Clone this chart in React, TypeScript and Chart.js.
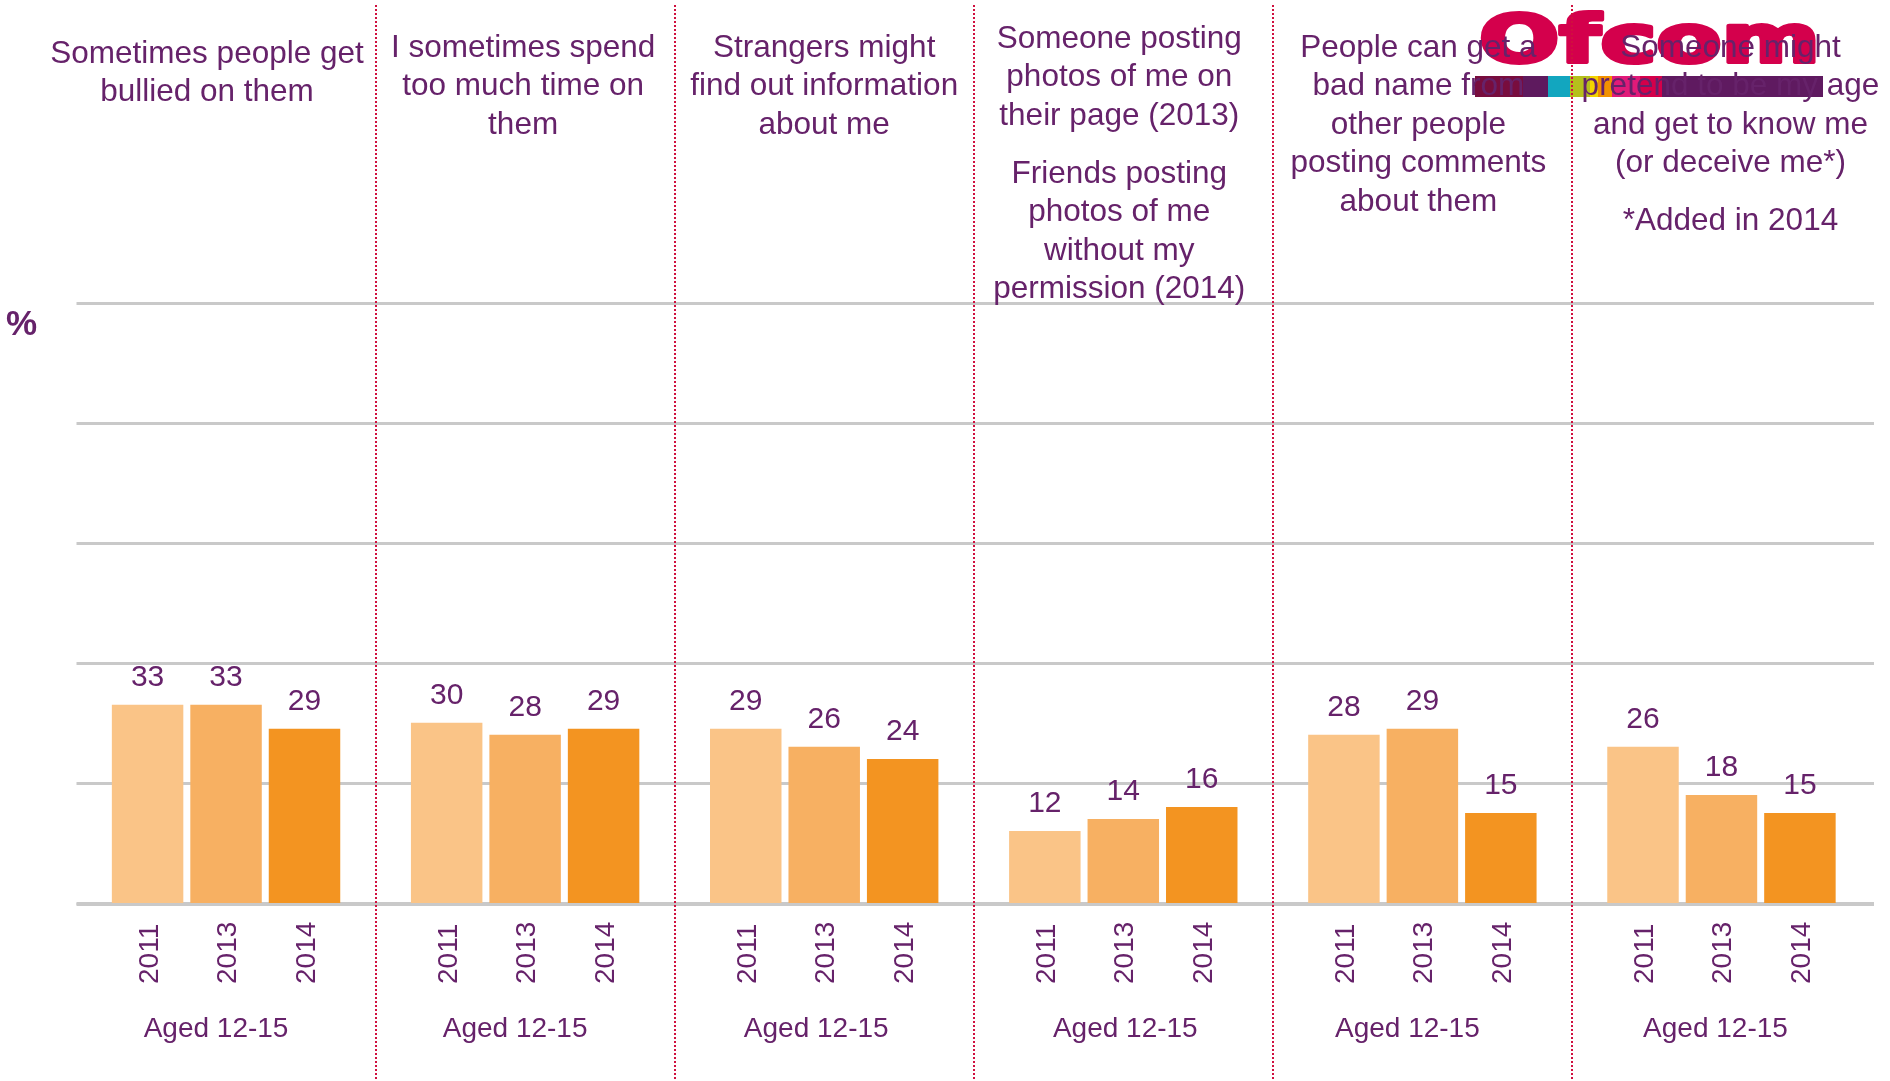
import React, { useEffect, useRef } from "react";
import { Chart, registerables } from "chart.js";

Chart.register(...registerables);

// ---------- data ----------
const categories = [
  "Bullied",
  "Too much time",
  "Strangers",
  "Photos",
  "Bad name",
  "Pretend age",
];
const titleParagraphs: string[][][] = [
  [["Sometimes people get", "bullied on them"]],
  [["I sometimes spend", "too much time on", "them"]],
  [["Strangers might", "find out information", "about me"]],
  [
    ["Someone posting", "photos of me on", "their page (2013)"],
    ["Friends posting", "photos of me", "without my", "permission (2014)"],
  ],
  [["People can get a", "bad name from", "other people", "posting comments", "about them"]],
  [["Someone might", "pretend to be my age", "and get to know me", "(or deceive me*)"], ["*Added in 2014"]],
];
const years = ["2011", "2013", "2014"];
const values2011 = [33, 30, 29, 12, 28, 26];
const values2013 = [33, 28, 26, 14, 29, 18];
const values2014 = [29, 29, 24, 16, 15, 15];
const groupLabel = "Aged 12-15";
const yMin = 0;
const yMax = 100;
const yStep = 20;
const unitLabel = "%";
const logoText = "Ofcom";

// ---------- layout / style ----------
const W = 1890;
const H = 1081;
const PURPLE = "#66226a";
const FONT = "'Liberation Sans', Arial, sans-serif";
const barColors = ["#fac487", "#f7b062", "#f39421"];
const titleFirstBaseline = [63, 57, 57, 48, 57, 57];
const titleDx = [-19, -2, 0, -4, -4, 9];
const ageDx = [-10, -10, -8, 2, -15, -6];
const logoBar: [number, number, string][] = [
  [1475, 1523, "#780d3e"],
  [1523, 1548, "#5e1a5e"],
  [1548, 1570, "#12a6bf"],
  [1570, 1590, "#b5c01c"],
  [1590, 1598, "#f3d400"],
  [1598, 1612, "#f29100"],
  [1612, 1640, "#e01a79"],
  [1640, 1662, "#d4004a"],
  [1662, 1823, "#5f1a60"],
];

const decorPlugin = {
  id: "decor",
  beforeDatasetsDraw(chart: any) {
    const { ctx, chartArea } = chart;
    const y = chart.scales.y;
    ctx.save();
    ctx.strokeStyle = "#c9c9c9";
    ctx.lineWidth = 3;
    y.ticks.forEach((t: any) => {
      const py = Math.round(y.getPixelForValue(t.value)) + 0.5;
      ctx.beginPath();
      ctx.moveTo(chartArea.left, py);
      ctx.lineTo(chartArea.right + 3, py);
      ctx.stroke();
    });
    ctx.restore();
  },
  afterDatasetsDraw(chart: any) {
    const { ctx } = chart;
    const x = chart.scales.x;
    const y = chart.scales.y;
    const base = y.getPixelForValue(0);
    const n = categories.length;
    const centers = categories.map((_, i) => x.getPixelForValue(i));

    ctx.save();
    // baseline redrawn just below bars
    ctx.strokeStyle = "#c9c9c9";
    ctx.lineWidth = 3;
    ctx.beginPath();
    ctx.moveTo(chart.chartArea.left, base + 1.5);
    ctx.lineTo(chart.chartArea.right + 3, base + 1.5);
    ctx.stroke();

    // logo
    ctx.font = `bold 64px 'DejaVu Sans', sans-serif`;
    const lw = ctx.measureText(logoText).width;
    ctx.save();
    ctx.translate(1479, 62);
    ctx.scale(341 / lw, 1.02);
    ctx.fillStyle = "#d4004c";
    ctx.strokeStyle = "#d4004c";
    ctx.lineWidth = 4;
    ctx.lineJoin = "round";
    ctx.textAlign = "left";
    ctx.textBaseline = "alphabetic";
    ctx.strokeText(logoText, 0, 0);
    ctx.fillText(logoText, 0, 0);
    ctx.restore();
    logoBar.forEach(([a, b, c]) => {
      ctx.fillStyle = c;
      ctx.fillRect(a, 76, b - a, 21);
    });

    // dotted dividers between categories
    ctx.strokeStyle = "#d0103f";
    ctx.lineWidth = 2;
    ctx.setLineDash([2, 2]);
    for (let i = 0; i < n - 1; i++) {
      const px = Math.round((centers[i] + centers[i + 1]) / 2);
      ctx.beginPath();
      ctx.moveTo(px, 5);
      ctx.lineTo(px, H);
      ctx.stroke();
    }
    ctx.setLineDash([]);

    ctx.fillStyle = PURPLE;
    // titles
    ctx.font = `31.5px ${FONT}`;
    ctx.textAlign = "center";
    ctx.textBaseline = "alphabetic";
    titleParagraphs.forEach((paras, i) => {
      let yy = titleFirstBaseline[i];
      paras.forEach((lines, p) => {
        if (p > 0) yy += 19.5;
        lines.forEach((line) => {
          ctx.fillText(line, centers[i] + titleDx[i], yy);
          yy += 38.4;
        });
      });
    });

    // unit label
    ctx.font = `bold 35px ${FONT}`;
    ctx.textAlign = "left";
    ctx.fillText(unitLabel, 6, 335);

    // value labels and year labels
    chart.data.datasets.forEach((ds: any, di: number) => {
      const meta = chart.getDatasetMeta(di);
      meta.data.forEach((bar: any, j: number) => {
        const p = bar.getProps(["x", "y"], true);
        ctx.font = `30px ${FONT}`;
        ctx.textAlign = "center";
        ctx.textBaseline = "alphabetic";
        ctx.fillText(String(ds.data[j]), p.x, p.y - 19);

        ctx.save();
        ctx.font = `28px ${FONT}`;
        ctx.translate(p.x + 10, base + 81);
        ctx.rotate(-Math.PI / 2);
        ctx.textAlign = "left";
        ctx.fillText(ds.label, 0, 0);
        ctx.restore();
      });
    });

    // group labels
    ctx.font = `28px ${FONT}`;
    ctx.textAlign = "center";
    centers.forEach((cx: number, i: number) => {
      ctx.fillText(groupLabel, cx + ageDx[i], base + 134);
    });

    ctx.restore();
  },
};

export default function App() {
  const ref = useRef<HTMLCanvasElement | null>(null);

  useEffect(() => {
    document.body.style.margin = "0";
    const canvas = ref.current;
    if (!canvas) return;
    const seriesValues = [values2011, values2013, values2014];
    const chart = new Chart(canvas, {
      type: "bar",
      data: {
        labels: categories,
        datasets: years.map((yr, i) => ({
          label: yr,
          data: seriesValues[i],
          backgroundColor: barColors[i],
          borderWidth: 0,
          categoryPercentage: 0.787,
          barPercentage: 0.911,
        })),
      },
      options: {
        responsive: false,
        animation: false,
        devicePixelRatio: 1,
        layout: { padding: { left: 76.5, right: 19, top: 302.5, bottom: 178 } },
        plugins: { legend: { display: false }, tooltip: { enabled: false }, title: { display: false } },
        scales: {
          x: { display: false, offset: true },
          y: { display: false, min: yMin, max: yMax, ticks: { stepSize: yStep } },
        },
      },
      plugins: [decorPlugin],
    });
    return () => chart.destroy();
  }, []);

  return (
    <div style={{ width: W, height: H, background: "#fff" }}>
      <canvas ref={ref} width={W} height={H} style={{ display: "block", width: W, height: H }} />
    </div>
  );
}
